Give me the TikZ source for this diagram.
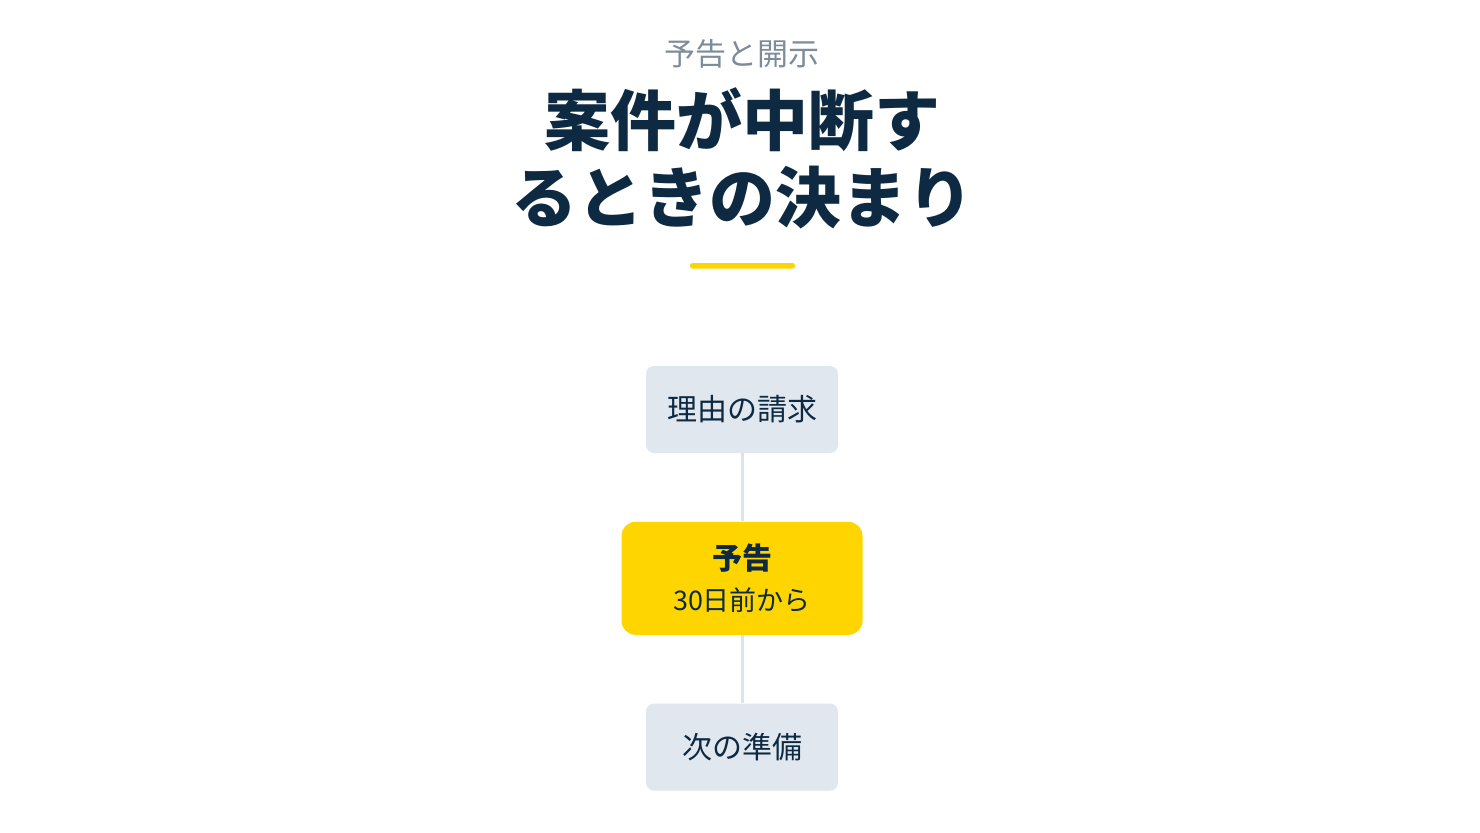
\documentclass[tikz,border=0pt]{standalone}
\usepackage{fontspec}
\setmainfont{Noto Sans CJK JP}
\usetikzlibrary{positioning}
\definecolor{navy}{HTML}{0D2A42}
\definecolor{inkgray}{HTML}{7D8C9A}
\definecolor{boxgray}{HTML}{E1E7EF}
\definecolor{linkgray}{HTML}{DDE3EA}
\definecolor{signyellow}{HTML}{FFD500}

\begin{document}
\begin{tikzpicture}[x=0.5pt, y=-0.5pt,
	stepbox/.style={rectangle, rounded corners=4pt, fill=boxgray, text=navy,
	minimum width=96pt, minimum height=43.5pt, inner sep=0pt,
	font=\fontsize{15}{18}\selectfont},
	keybox/.style={rectangle, rounded corners=7pt, fill=signyellow, text=navy,
	minimum width=120.5pt, minimum height=56.5pt, inner sep=0pt, align=center},
	link/.style={draw=linkgray, line width=1.5pt},
	node distance=34pt
	]
	\useasboundingbox (0,0) rectangle (1480,832);
	\node[text=inkgray, font=\fontsize{15.5}{18}\selectfont] (kicker) at (742,54) {予告と開示};
	\node[text=navy, align=center, font=\fontsize{33}{38.5}\selectfont\bfseries] (title) at (742,158) {案件が中断す\\るときの決まり};
	\fill[signyellow, rounded corners=1.2pt] (690,263) rectangle (795,268.5);
	
	\node[stepbox] (ask) at (742,409.5) {理由の請求};
	\node[keybox] (notice) [below=of ask] {{\fontsize{15}{18}\selectfont\bfseries 予告}\\[6.5pt]{\fontsize{13.5}{16}\selectfont 30日前から}};
	\node[stepbox] (next) [below=of notice] {次の準備};
	
	\draw[link] (ask.south) to (notice.north);
	\draw[link] (notice.south) to (next.north);
\end{tikzpicture}
\end{document}
